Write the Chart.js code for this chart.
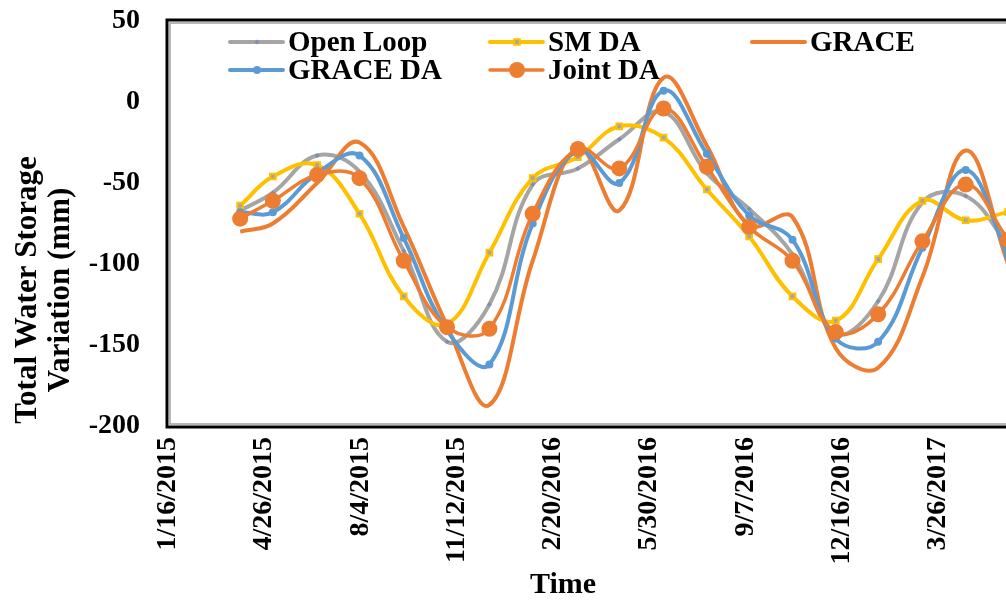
<!DOCTYPE html>
<html>
<head>
<meta charset="utf-8">
<title>Total Water Storage Variation</title>
<script src="https://cdn.jsdelivr.net/npm/chart.js@4.4.1/dist/chart.umd.min.js"></script>
<style>
  html, body { margin: 0; padding: 0; background: #fff; overflow: hidden; }
  #wrap { width: 1006px; height: 601px; overflow: hidden; }
</style>
</head>
<body>
<div id="wrap"><canvas id="chart" width="1070" height="601"></canvas></div>
<script>
// sample dates (M/D/YYYY) and values in mm
const dates = ['4/1/2015', '5/5/2015', '6/20/2015', '8/3/2015', '9/18/2015', '11/2/2015', '12/16/2015',
    '1/30/2016', '3/17/2016', '4/29/2016', '6/14/2016', '7/29/2016', '9/11/2016', '10/26/2016', '12/10/2016',
    '1/23/2017', '3/10/2017', '4/24/2017', '6/7/2017']
const openLoop = [-67, -56, -33, -43, -92, -148, -125, -51, -41, -23, -6, -44, -66, -94, -143, -123, -62, -58, -88]
const smDA = [-64, -46, -39, -69, -120, -137, -93, -47, -34, -15, -22, -54, -83, -120, -135, -97, -61, -73, -68]
const grace = [-80, -75, -50, -25, -77, -138, -187, -98, -28, -67, 15, -27, -76, -71, -152, -164, -108, -30, -100]
const graceDA = [-68, -68, -44, -33, -84, -141, -162, -75, -30, -50, 7, -32, -70, -85, -146, -148, -90, -42, -95]
const jointDA = [-72, -61, -45, -47, -98, -139, -140, -69, -29, -41, -4, -40, -77, -98, -142, -131, -86, -51, -85]
const tickLabels = ['1/16/2015', '4/26/2015', '8/4/2015', '11/12/2015', '2/20/2016', '5/30/2016', '9/7/2016', '12/16/2016', '3/26/2017']

const FONT = '"Liberation Serif", "Times New Roman", serif'
Chart.defaults.font.family = FONT
Chart.defaults.color = '#000'

// days since the first tick date
const toDay = function(s){
    const [m, d, y] = s.split('/').map(Number)
    return Date.UTC(y, m - 1, d) / 864e5
}
const dayOf = s => toDay(s) - toDay(tickLabels[0])
const toPoints = values => values.map((v, i) => ({x: dayOf(dates[i]), y: v}))

const datasets = [
    {label: 'Open Loop', data: toPoints(openLoop), borderColor: '#A5A5A5', borderWidth: 4,
        pointStyle: 'rectRot', pointRadius: 2.5, pointBackgroundColor: '#7F8FB4', pointBorderColor: '#7F8FB4', pointBorderWidth: 0, order: 5},
    {label: 'SM DA', data: toPoints(smDA), borderColor: '#FFC000', borderWidth: 4,
        pointStyle: 'rect', pointRadius: 4, pointBackgroundColor: '#A5A5A5', pointBorderColor: '#FFC000', pointBorderWidth: 2, order: 4},
    {label: 'GRACE', data: toPoints(grace), borderColor: '#ED7D31', borderWidth: 4, pointRadius: 0, order: 3},
    {label: 'GRACE DA', data: toPoints(graceDA), borderColor: '#5B9BD5', borderWidth: 4,
        pointStyle: 'circle', pointRadius: 4, pointBackgroundColor: '#5B9BD5', pointBorderColor: '#5B9BD5', pointBorderWidth: 0, order: 2},
    {label: 'Joint DA', data: toPoints(jointDA), borderColor: '#ED7D31', borderWidth: 3.5,
        pointStyle: 'circle', pointRadius: 8, pointBackgroundColor: '#ED7D31', pointBorderColor: '#ED7D31', pointBorderWidth: 0, order: 1}
]

// plot frame, legend inside the plot and the axis titles
const decor = {
    id: 'decor',
    beforeDatasetsDraw(chart){
        const {ctx, chartArea: a} = chart
        ctx.save()
        ctx.strokeStyle = '#000'
        ctx.lineWidth = 3
        ctx.strokeRect(a.left - 1, a.top - 1, a.right - a.left + 2, a.bottom - a.top + 2)
        ctx.strokeStyle = '#A0A0A0'
        ctx.lineWidth = 1.5
        ctx.strokeRect(a.left + 2, a.top + 2, a.right - a.left - 4, a.bottom - a.top - 4)
        ctx.restore()
    },
    afterDraw(chart){
        const ctx = chart.ctx
        const slots = [[230, 42], [490, 42], [752, 42], [230, 70], [490, 70]]
        ctx.save()
        chart.data.datasets.forEach((ds, i) => {
            const [x, y] = slots[i]
            ctx.strokeStyle = ds.borderColor
            ctx.lineWidth = ds.borderWidth
            ctx.lineCap = 'round'
            ctx.beginPath()
            ctx.moveTo(x, y)
            ctx.lineTo(x + 53, y)
            ctx.stroke()
            if(ds.pointRadius > 0){
                ctx.fillStyle = ds.pointBackgroundColor
                ctx.strokeStyle = ds.pointBorderColor
                ctx.lineWidth = ds.pointBorderWidth
                Chart.helpers.drawPoint(ctx, {pointStyle: ds.pointStyle, radius: ds.pointRadius, rotation: 0, borderWidth: ds.pointBorderWidth}, x + 27, y)
            }
            ctx.fillStyle = '#000'
            ctx.font = 'bold 29px ' + FONT
            ctx.textBaseline = 'alphabetic'
            ctx.textAlign = 'left'
            ctx.fillText(ds.label, x + 58, y + 9)
        })
        ctx.font = 'bold 30px ' + FONT
        ctx.textAlign = 'center'
        ctx.textBaseline = 'middle'
        ctx.fillText('Time', 563, 585)
        ctx.font = 'bold 31px ' + FONT
        ctx.translate(0, 290)
        ctx.rotate(-Math.PI / 2)
        ctx.fillText('Total Water Storage', 0, 28)
        ctx.fillText('Variation (mm)', 0, 61)
        ctx.restore()
    }
}

new Chart(document.getElementById('chart'), {
    type: 'line',
    data: {datasets: datasets},
    options: {
        responsive: false,
        animation: false,
        devicePixelRatio: 1,
        layout: {padding: {top: 21, right: 10, left: 0, bottom: 0}},
        elements: {line: {tension: 0.4, fill: false}},
        plugins: {legend: {display: false}, tooltip: {enabled: false}},
        scales: {
            x: {
                type: 'linear', min: 0, max: 927,
                grid: {display: false}, border: {display: false},
                afterBuildTicks: scale => { scale.ticks = tickLabels.map(t => ({value: dayOf(t)})) },
                afterFit: scale => {
                    scale.height = 175
                    scale.paddingLeft = 0
                    scale.paddingRight = 0
                },
                ticks: {
                    autoSkip: false, minRotation: 90, maxRotation: 90, padding: 3,
                    font: {size: 28, weight: 'bold'},
                    callback: (v, i) => tickLabels[i]
                }
            },
            y: {
                min: -200, max: 50,
                grid: {display: false}, border: {display: false},
                afterFit: scale => {
                    scale.width = 168
                    scale.paddingTop = 0
                    scale.paddingBottom = 0
                },
                ticks: {stepSize: 50, padding: 20, font: {size: 28, weight: 'bold'}}
            }
        }
    },
    plugins: [decor]
})
</script>
</body>
</html>
